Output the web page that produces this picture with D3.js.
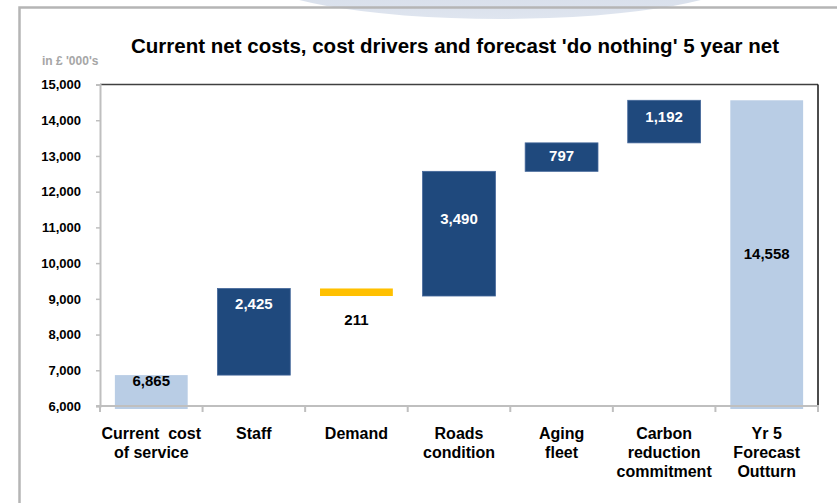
<!DOCTYPE html>
<html>
<head>
<meta charset="utf-8">
<script src="https://cdn.jsdelivr.net/npm/d3@7"></script>
<style>
  html, body { margin: 0; padding: 0; background: #fff; }
  svg { display: block; font-family: Arial, "Liberation Sans", sans-serif; }
</style>
</head>
<body>
<svg id="chart" width="837" height="503"></svg>
<script>
// Waterfall data: first and last bars are totals, the rest are changes
const categories = [
  ["Current  cost", "of service"],
  ["Staff"],
  ["Demand"],
  ["Roads", "condition"],
  ["Aging", "fleet"],
  ["Carbon", "reduction", "commitment"],
  ["Yr 5", "Forecast", "Outturn"]
];
const values = [6865, 2425, -211, 3490, 797, 1192, 14558];
const kinds = ["total", "up", "down", "up", "up", "up", "total"];
const yTicks = [6000, 7000, 8000, 9000, 10000, 11000, 12000, 13000, 14000, 15000];
const yDomain = [6000, 15000];

// Label placement inside each bar (px below bar top, or "below" the bar)
const labelOffset = [6, 15, "below", 47, 13, 16, 153];

const colors = { total: "#b9cde5", up: "#1f497d", down: "#ffc000" };
const labelColors = { total: "#000", up: "#fff", down: "#000" };

const svg = d3.select("#chart");
const W = 837, H = 503;
const plot = { left: 100, right: 818, top: 84.5, bottom: 406 };

// decorative header swoosh and outer frame
const defs = svg.append("defs");
const grad = defs.append("linearGradient").attr("id", "swoosh").attr("x1", 0).attr("x2", 0).attr("y1", 0).attr("y2", 1);
grad.append("stop").attr("offset", "0%").attr("stop-color", "#c3cee0");
grad.append("stop").attr("offset", "100%").attr("stop-color", "#dfe5ef");
svg.append("ellipse").attr("cx", 500).attr("cy", -28).attr("rx", 250).attr("ry", 47).attr("fill", "url(#swoosh)");
svg.append("path").attr("d", `M19.5,${H} V7.5 H${W}`).attr("fill", "none").attr("stroke", "#b5b5b5").attr("stroke-width", 2.5);

// running totals for the waterfall
let run = 0;
const bars = values.map((v, i) => {
  let lo, hi;
  if (kinds[i] === "total") { lo = yDomain[0]; hi = v; run = v; }
  else { const start = run; run = run + v; lo = Math.min(start, run); hi = Math.max(start, run); }
  return { i, v, lo, hi, kind: kinds[i], cat: categories[i].join(" ") };
});

const x = d3.scaleBand().domain(bars.map(d => d.cat)).range([plot.left, plot.right])
  .paddingInner(0.29).paddingOuter(0.145);
const y = d3.scaleLinear().domain(yDomain).range([plot.bottom, plot.top]);

// plot frame: top and right border
svg.append("line").attr("x1", plot.left).attr("x2", plot.right).attr("y1", plot.top).attr("y2", plot.top)
  .attr("stroke", "#404040").attr("stroke-width", 1.5);
svg.append("line").attr("x1", plot.right).attr("x2", plot.right).attr("y1", plot.top).attr("y2", plot.bottom)
  .attr("stroke", "#111").attr("stroke-width", 1.5);

// bars (totals dip slightly beneath the axis line)
svg.append("g").selectAll("rect").data(bars).join("rect")
  .attr("x", d => x(d.cat))
  .attr("width", x.bandwidth())
  .attr("y", d => y(d.hi))
  .attr("height", d => (d.kind === "total" ? y(d.lo) + 3 : y(d.lo)) - y(d.hi))
  .attr("fill", d => colors[d.kind])
  .attr("stroke", d => d.kind === "up" ? "#44679a" : "none")
  .attr("stroke-width", 0.8);

// y axis
const yAxis = svg.append("g").attr("transform", `translate(${plot.left},0)`)
  .call(d3.axisLeft(y).tickValues(yTicks).tickSize(4).tickPadding(15).tickFormat(d3.format(",")));
yAxis.select(".domain").attr("stroke", "#bfbfbf").attr("stroke-width", 2);
yAxis.selectAll(".tick line").attr("stroke", "#bfbfbf").attr("stroke-width", 1.5);
yAxis.selectAll(".tick text").attr("fill", "#000").attr("font-size", 13).attr("font-weight", "bold")
  .attr("font-family", "Arial, 'Liberation Sans', sans-serif");

// x axis with ticks at category boundaries
const xAxisG = svg.append("g");
xAxisG.append("line").attr("x1", plot.left - 4).attr("x2", plot.right + 1).attr("y1", plot.bottom).attr("y2", plot.bottom)
  .attr("stroke", "#bfbfbf").attr("stroke-width", 2);
const step = x.step();
const bounds = d3.range(categories.length + 1).map(k => plot.left + k * step);
xAxisG.selectAll("line.b").data(bounds).join("line").attr("class", "b")
  .attr("x1", d => d).attr("x2", d => d).attr("y1", plot.bottom).attr("y2", plot.bottom + 6)
  .attr("stroke", "#bfbfbf").attr("stroke-width", 2);

// category labels
const catText = svg.append("g").selectAll("text").data(bars).join("text")
  .attr("x", d => x(d.cat) + x.bandwidth() / 2)
  .attr("y", 439)
  .attr("text-anchor", "middle").attr("font-size", 16).attr("font-weight", "bold").attr("fill", "#000")
  .attr("xml:space", "preserve");
catText.selectAll("tspan").data(d => categories[d.i].map(line => ({ line, cx: x(d.cat) + x.bandwidth() / 2 })))
  .join("tspan").attr("x", d => d.cx).attr("dy", (d, k) => k === 0 ? 0 : 19).text(d => d.line);

// value labels
svg.append("g").selectAll("text").data(bars).join("text")
  .attr("x", d => x(d.cat) + x.bandwidth() / 2)
  .attr("y", d => labelOffset[d.i] === "below" ? y(d.lo) + 24 : y(d.hi) + labelOffset[d.i])
  .attr("dy", "0.35em")
  .attr("text-anchor", "middle").attr("font-size", 15).attr("font-weight", "bold")
  .attr("fill", d => labelColors[d.kind])
  .text(d => d3.format(",")(Math.abs(d.v)));

// titles
svg.append("text").attr("x", 455).attr("y", 53).attr("text-anchor", "middle")
  .attr("font-size", 20.5).attr("font-weight", "bold").attr("fill", "#000")
  .attr("textLength", 648).attr("lengthAdjust", "spacingAndGlyphs")
  .text("Current net costs, cost drivers and forecast 'do nothing' 5 year net");
svg.append("text").attr("x", 42).attr("y", 65)
  .attr("font-size", 12).attr("font-weight", "bold").attr("fill", "#a6a6a6")
  .text("in £ '000's");
</script>
</body>
</html>
